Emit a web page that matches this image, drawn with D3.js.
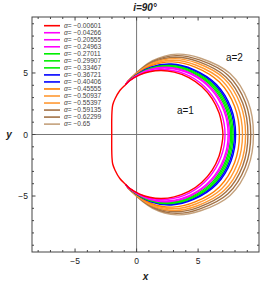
<!DOCTYPE html>
<html>
<head>
<meta charset="utf-8">
<script src="https://cdn.jsdelivr.net/npm/d3@7/dist/d3.min.js"></script>
<style>
body{margin:0;background:#fff}
text{font-family:"Liberation Sans",Arial,sans-serif}
</style>
</head>
<body>
<div id="chart"></div>
<script>
// legend values and colours, red first
var alphas = ["-0.00601","-0.04266","-0.20555","-0.24963","-0.27011","-0.29907","-0.33467",
              "-0.36721","-0.40406","-0.45555","-0.50937","-0.55397","-0.59135","-0.62299","-0.65"]
var colors = ["#ff0000","#ff00ff","#ff00ff","#ff00ff","#00ee00","#00ee00","#00ee00",
              "#0000ff","#0000ff","#ff8000","#ff9933","#ff9933","#a37246","#a37246","#c4a17c"]

// upper half of the red shadow (a=1)
var redUpper = [[-2.02,0],[-2.02,1.2],[-2.0,1.85],[-1.94,2.4],[-1.75,2.9],[-1.36,3.58],[-0.9,4.05],
                [-0.56,4.38],[0.25,4.84],[1.06,5.10],[2.0,5.2],[3.06,5.07],[4.25,4.63],[5.29,3.9],
                [6.12,2.93],[6.7,1.76],[6.93,0.8],[7.02,0]]

// where the other curves leave the red one
var junction = [-0.9,4.05]

// upper halves of the other 14 curves (from the junction round to y=0)
var otherUpper = [
  [[-0.55,4.40],[1.08,5.16],[2.56,5.26],[4.32,4.74],[5.83,3.56],[6.86,1.83],[7.19,0]],
  [[-0.54,4.42],[1.10,5.25],[2.64,5.39],[4.41,4.90],[6.02,3.71],[7.10,1.92],[7.44,0]],
  [[-0.54,4.43],[1.11,5.29],[2.67,5.45],[4.45,4.96],[6.10,3.77],[7.19,1.96],[7.54,0]],
  [[-0.53,4.44],[1.12,5.33],[2.70,5.50],[4.49,5.02],[6.18,3.83],[7.29,2.00],[7.64,0]],
  [[-0.53,4.44],[1.13,5.36],[2.73,5.56],[4.53,5.09],[6.25,3.89],[7.38,2.03],[7.74,0]],
  [[-0.52,4.45],[1.14,5.40],[2.76,5.61],[4.56,5.15],[6.33,3.95],[7.48,2.07],[7.84,0]],
  [[-0.52,4.46],[1.15,5.44],[2.80,5.67],[4.61,5.22],[6.41,4.01],[7.58,2.11],[7.95,0]],
  [[-0.51,4.47],[1.16,5.47],[2.83,5.73],[4.64,5.28],[6.49,4.07],[7.68,2.15],[8.05,0]],
  [[-0.50,4.50],[1.19,5.59],[2.93,5.90],[4.76,5.48],[6.73,4.26],[7.97,2.27],[8.36,0]],
  [[-0.49,4.52],[1.21,5.68],[3.01,6.04],[4.86,5.63],[6.92,4.41],[8.20,2.36],[8.61,0]],
  [[-0.48,4.54],[1.24,5.77],[3.09,6.17],[4.95,5.79],[7.11,4.56],[8.44,2.46],[8.86,0]],
  [[-0.47,4.56],[1.26,5.84],[3.16,6.28],[5.03,5.92],[7.26,4.68],[8.63,2.53],[9.05,0]],
  [[-0.46,4.58],[1.28,5.92],[3.23,6.41],[5.11,6.06],[7.43,4.82],[8.84,2.62],[9.28,0]],
  [[-0.45,4.60],[1.30,6.00],[3.30,6.53],[5.20,6.20],[7.60,4.95],[9.05,2.70],[9.50,0]]
]

var majorTicks = [-5,0,5]
var majorLabels = ["\u22125","0","5"]
var minorXTicks = [-8,-7,-6,-4,-3,-2,-1,1,2,3,4,6,7,8,9]
var minorYTicks = [-9,-8,-7,-6,-4,-3,-2,-1,1,2,3,4,6,7,8,9]

var W = 278, H = 285
var margin = {top: 17, right: 19, bottom: 33, left: 32},
    width = W - margin.left - margin.right,
    height = H - margin.top - margin.bottom

var svg = d3.select("#chart").append("svg")
    .attr("width", W).attr("height", H)

var g = svg.append("g")
    .attr("transform", "translate(" + margin.left + "," + margin.top + ")")

var x = d3.scaleLinear().domain([-8.5, 9.95]).range([0, width])
var y = d3.scaleLinear().domain([-9.55, 9.55]).range([height, 0])

// axes through the origin
g.append("line").attr("x1", x(0)).attr("x2", x(0)).attr("y1", 0).attr("y2", height)
    .attr("stroke", "#777").attr("stroke-width", 1)
g.append("line").attr("x1", 0).attr("x2", width).attr("y1", y(0)).attr("y2", y(0))
    .attr("stroke", "#777").attr("stroke-width", 1)

var line = d3.line().x(function(d){ return x(d[0]) }).y(function(d){ return y(d[1]) })

function mirror(p){ return [p[0], -p[1]] }

// outer curves first so the inner ones sit on top
for (var i = otherUpper.length - 1; i >= 0; i--) {
    var up = [junction].concat(otherUpper[i])
    var pts = up.concat(up.slice(0, -1).reverse().map(mirror))
    g.append("path")
        .attr("d", line.curve(d3.curveCatmullRom)(pts))
        .attr("fill", "none")
        .attr("stroke", colors[i + 1])
        .attr("stroke-width", 1.4)
}

var redPts = redUpper.slice().reverse().concat(redUpper.slice(1, -1).map(mirror))
g.append("path")
    .attr("d", line.curve(d3.curveCatmullRomClosed)(redPts))
    .attr("fill", "none")
    .attr("stroke", colors[0])
    .attr("stroke-width", 1.4)

// frame and inward ticks
g.append("rect").attr("width", width).attr("height", height)
    .attr("fill", "none").attr("stroke", "#444").attr("stroke-width", 1)

function tickSet(vals, len) {
    vals.forEach(function(v){
        g.append("line").attr("x1", x(v)).attr("x2", x(v)).attr("y1", height).attr("y2", height - len)
            .attr("stroke", "#444")
        g.append("line").attr("x1", x(v)).attr("x2", x(v)).attr("y1", 0).attr("y2", len)
            .attr("stroke", "#444")
    })
}
function tickSetY(vals, len) {
    vals.forEach(function(v){
        g.append("line").attr("y1", y(v)).attr("y2", y(v)).attr("x1", 0).attr("x2", len)
            .attr("stroke", "#444")
        g.append("line").attr("y1", y(v)).attr("y2", y(v)).attr("x1", width).attr("x2", width - len)
            .attr("stroke", "#444")
    })
}
tickSet(minorXTicks, 2)
tickSet(majorTicks, 3.5)
tickSetY(minorYTicks, 2)
tickSetY(majorTicks, 3.5)

majorTicks.forEach(function(v, k){
    g.append("text").attr("x", x(v)).attr("y", height + 12)
        .attr("text-anchor", "middle").attr("font-size", 8.5).attr("fill", "#222")
        .text(majorLabels[k])
    g.append("text").attr("x", -4).attr("y", y(v) + 3)
        .attr("text-anchor", "end").attr("font-size", 8.5).attr("fill", "#222")
        .text(majorLabels[k])
})

// legend
alphas.forEach(function(a, k){
    var ly = 8.7 + k * 7.03
    g.append("line").attr("x1", 12).attr("x2", 28).attr("y1", ly).attr("y2", ly)
        .attr("stroke", colors[k]).attr("stroke-width", 1.6)
    var t = g.append("text").attr("x", 32).attr("y", ly + 2.3)
        .attr("font-size", 6.6).attr("fill", "#444")
    t.append("tspan").attr("font-style", "italic").text("\u03b1")
    t.append("tspan").text("= " + a.replace("-", "\u2212"))
})

// curve group labels
g.append("text").attr("x", x(3.28)).attr("y", y(1.68)).attr("font-size", 10).attr("fill", "#111").text("a=1")
g.append("text").attr("x", x(7.26)).attr("y", y(6.0)).attr("font-size", 10).attr("fill", "#111").text("a=2")

// titles
svg.append("text").attr("x", 145).attr("y", 11).attr("text-anchor", "middle")
    .attr("font-size", 10).attr("font-weight", "bold").attr("font-style", "italic")
    .attr("fill", "#222").text("i=90\u00b0")
svg.append("text").attr("x", margin.left + width / 2).attr("y", 280).attr("text-anchor", "middle")
    .attr("font-size", 10).attr("font-weight", "bold").attr("font-style", "italic")
    .attr("fill", "#222").text("x")
svg.append("text").attr("transform", "translate(9," + (margin.top + height / 2) + ")")
    .attr("text-anchor", "middle").attr("dy", "0.35em")
    .attr("font-size", 10).attr("font-weight", "bold").attr("font-style", "italic")
    .attr("fill", "#222").text("y")
</script>
</body>
</html>
